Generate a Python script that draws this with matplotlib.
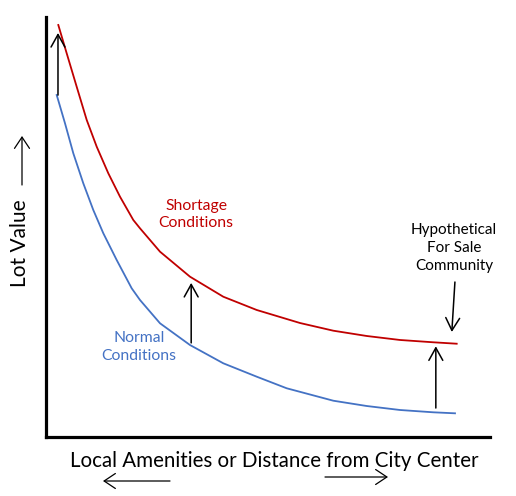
import matplotlib.pyplot as plt

# Nilai kurva (satuan sumbu 0-10)
x_short = [0.277, 0.466, 0.691, 0.917, 1.142, 1.403, 1.667, 1.966, 2.117,
           2.568, 3.243, 3.993, 4.746, 5.721, 6.471, 7.223, 7.973, 8.723, 9.250]
y_short = [9.810, 9.136, 8.340, 7.548, 6.912, 6.279, 5.721, 5.167, 4.969,
           4.412, 3.817, 3.340, 3.024, 2.714, 2.531, 2.405, 2.310, 2.255, 2.221]

x_normal = [0.241, 0.428, 0.615, 0.840, 1.065, 1.291, 1.592, 1.930, 2.117,
            2.568, 3.243, 3.993, 4.746, 5.421, 6.471, 7.223, 7.973, 8.723, 9.212]
y_normal = [8.143, 7.469, 6.755, 6.040, 5.405, 4.850, 4.214, 3.540, 3.262,
            2.707, 2.190, 1.755, 1.436, 1.160, 0.864, 0.738, 0.643, 0.588, 0.564]

# Panah kenaikan (x, y_awal, y_akhir)
shift_arrows = [(0.27, 8.14, 9.62), (3.27, 2.24, 3.67), (8.78, 0.69, 2.16)]

red = '#c00000'
blue = '#4472c4'
plt.rcParams['font.family'] = ['Lato', 'DejaVu Sans']

fig = plt.figure(figsize=(5.16, 4.96), dpi=100)
ax = fig.add_axes([46/516, 59/496, 444/516, 420/496])
ax.set_xlim(0, 10)
ax.set_ylim(0, 10)
for s in ['top', 'right']:
    ax.spines[s].set_visible(False)
for s in ['left', 'bottom']:
    ax.spines[s].set_linewidth(2.3)
ax.set_xticks([])
ax.set_yticks([])

ax.plot(x_short, y_short, color=red, lw=1.3)
ax.plot(x_normal, y_normal, color=blue, lw=1.3)

arrow = dict(arrowstyle='->,head_length=0.45,head_width=0.25', color='black',
             lw=1.1, mutation_scale=20, shrinkA=0, shrinkB=0)
for xa, y0, y1 in shift_arrows:
    ax.annotate('', xy=(xa, y1), xytext=(xa, y0), arrowprops=arrow)
ax.annotate('', xy=(9.14, 2.50), xytext=(9.21, 3.69), arrowprops=arrow)

ax.text(3.38, 5.29, 'Shortage\nConditions', color=red, fontsize=11.3,
        ha='center', va='center', linespacing=1.3)
ax.text(2.09, 2.14, 'Normal\nConditions', color=blue, fontsize=11.3,
        ha='center', va='center', linespacing=1.3)
ax.text(9.19, 4.50, 'Hypothetical\nFor Sale\nCommunity', color='black',
        fontsize=11, ha='center', va='center', linespacing=1.35)

# Label sumbu dan panah di luar area plot
fig.text(20/516, 1 - 243/496, 'Lot Value', rotation=90, fontsize=15,
         ha='center', va='center')
fig.text(274/516, 1 - 461/496, 'Local Amenities or Distance from City Center',
         fontsize=14.8, ha='center', va='center')
small = dict(arrowstyle='->,head_length=0.45,head_width=0.3', color='black',
             lw=0.9, mutation_scale=18, shrinkA=0, shrinkB=0)
fig_arrows = [((22, 185), (22, 136)), ((170, 481), (103, 481)),
              ((325, 477), (388, 477))]
for (xs, ys), (xe, ye) in fig_arrows:
    ax.annotate('', xy=(xe, 496 - ye), xytext=(xs, 496 - ys),
                xycoords='figure pixels', textcoords='figure pixels',
                arrowprops=small)

plt.savefig('out.png', dpi=100)
